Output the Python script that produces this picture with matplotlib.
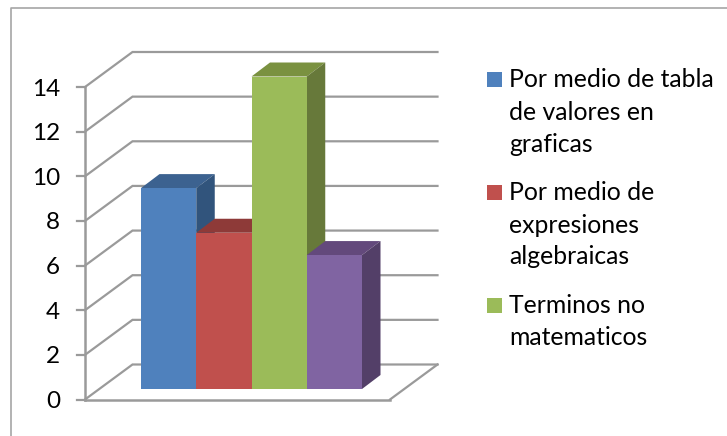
import matplotlib
matplotlib.use('Agg')
import matplotlib.pyplot as plt
from matplotlib.patches import Polygon, Rectangle
from matplotlib.transforms import Affine2D

# valores de cada barra
values = [9, 7, 14, 6]
front_colors = ['#4F81BD', '#C0504D', '#9BBB59', '#8064A2']
top_colors = ['#3C6290', '#8E3A38', '#7A9140', '#63497C']
side_colors = ['#31547C', '#7A3230', '#67793A', '#533F68']
y_ticks = [0, 2, 4, 6, 8, 10, 12, 14]
legend_lines = [['Por medio de tabla', 'de valores en', 'graficas'],
                ['Por medio de', 'expresiones', 'algebraicas'],
                ['Terminos no', 'matematicos']]
legend_colors = ['#4F81BD', '#C0504D', '#9BBB59']

W, H = 727, 436
GRAY = '#9A9A9A'
FONT = ['Lato', 'DejaVu Sans']

fig = plt.figure(figsize=(W / 100, H / 100), dpi=100, facecolor='white')

# capa en pixeles para el marco y la leyenda
page = fig.add_axes([0, 0, 1, 1])
page.set_xlim(0, W)
page.set_ylim(H, 0)
page.axis('off')
page.plot([11, 11, W], [H, 8, 8], color='#A6A6A6', lw=1.2)

# eje principal: x en categorias, y en valores
left, right, y0, y14 = 141, 362, 399.5, 87
ax = fig.add_axes([left / W, (H - y0) / H, (right - left) / W, (y0 - y14) / H])
ax.set_xlim(0, len(values))
ax.set_ylim(0, 14)
ax.axis('off')

x_unit = (right - left) / len(values)


def shifted(dx, dy):
    return ax.transData + Affine2D().translate(dx, dy)


back = shifted(47.5, 35)
x_axis = (85 - left) / x_unit
x_floor = (390 - left) / x_unit
inv = ax.transData.inverted()

# rejilla de las paredes
for t in y_ticks:
    corner = ax.transData.transform((x_axis, t))
    pts = inv.transform([corner, back.transform((x_axis, t)), back.transform((x_floor, t))])
    ax.plot(pts[:, 0], pts[:, 1], color=GRAY, lw=1.6, clip_on=False,
            solid_joinstyle='miter', zorder=1)
    # marca del eje y etiqueta
    ax.plot([x_axis - 8 / x_unit, x_axis], [t, t], color=GRAY, lw=1.6, clip_on=False, zorder=1)
    ax.text(x_axis - 25 / x_unit, t, str(t), ha='right', va='center_baseline', fontsize=17.5,
            family=FONT, color='black', clip_on=False)

# eje vertical y piso
ax.plot([x_axis, x_axis], [0, 14], color=GRAY, lw=1.8, clip_on=False, zorder=1)
ax.plot([x_axis, x_floor], [0, 0], color=GRAY, lw=1.8, clip_on=False, zorder=1)
xf, yf = inv.transform(back.transform((x_floor, 0)))
ax.plot([x_floor, xf], [0, yf], color=GRAY, lw=1.6, clip_on=False, zorder=1)

# barras con cara frontal, superior y lateral
front = shifted(0, 10.5)
depth_x, depth_y = 18.5 / x_unit, 14 / ((y0 - y14) / 14)
for i, v in enumerate(values):
    x1, x2 = i, i + 1
    ax.add_patch(Polygon([(x1, v), (x1 + depth_x, v + depth_y), (x2 + depth_x, v + depth_y), (x2, v)],
                         closed=True, fc=top_colors[i], ec='none', transform=front, zorder=2 + i, clip_on=False))
    ax.add_patch(Polygon([(x2, 0), (x2 + depth_x, depth_y), (x2 + depth_x, v + depth_y), (x2, v)],
                         closed=True, fc=side_colors[i], ec='none', transform=front, zorder=2 + i, clip_on=False))
    ax.add_patch(Rectangle((x1, 0), 1, v, fc=front_colors[i], ec='none', transform=front,
                           zorder=2 + i, clip_on=False))

# leyenda a la derecha
swatch_y = [72, 185, 298]
baselines = [[87, 120, 152], [200, 233, 264], [313, 345]]
for lines, color, sy, bases in zip(legend_lines, legend_colors, swatch_y, baselines):
    page.add_patch(Rectangle((487, sy), 15, 15, fc=color, ec='none'))
    for line, b in zip(lines, bases):
        page.text(509, b, line, ha='left', va='baseline', fontsize=17.8, family=FONT, color='black')

fig.savefig('out.png', dpi=100, facecolor='white')
